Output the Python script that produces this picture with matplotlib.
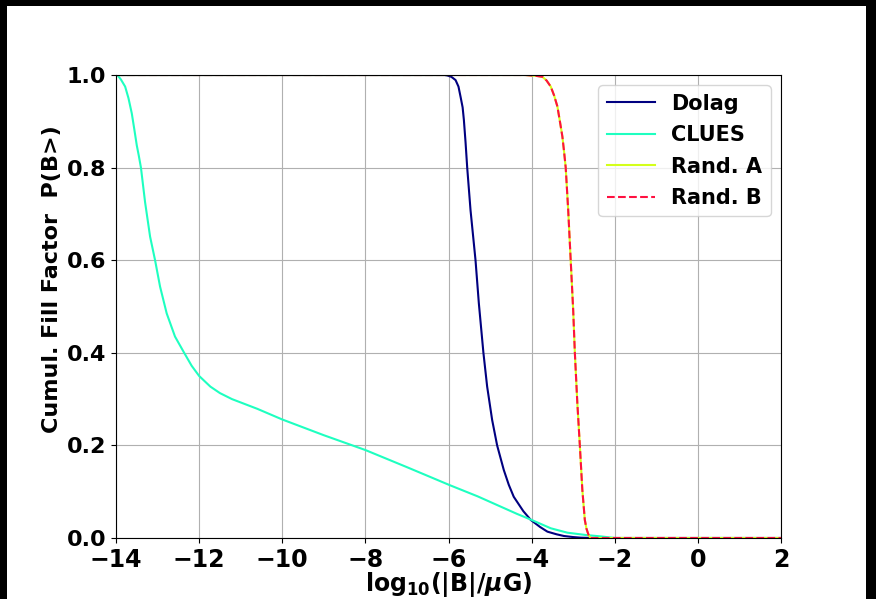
'''
Cumulative filling factor of the magnetic field for the different models
'''
from matplotlib import pyplot as plt
from matplotlib.patches import Rectangle

# log10(|B|/muG) and P(B>)
dolag_x = [-14.0, -6.1, -6.03, -5.93, -5.83, -5.76, -5.71, -5.66, -5.63, -5.59, -5.55,
           -5.47, -5.35, -5.27, -5.16, -5.07, -4.95, -4.83, -4.67, -4.55, -4.43, -4.2,
           -4.02, -3.8, -3.62, -3.4, -3.22, -3.0, -2.82, -2.5, 2.0]
dolag_y = [1.0, 1.0, 0.999, 0.996, 0.989, 0.975, 0.953, 0.93, 0.903, 0.855, 0.80,
           0.708, 0.60, 0.507, 0.40, 0.327, 0.255, 0.20, 0.147, 0.115, 0.089, 0.058,
           0.039, 0.024, 0.0137, 0.008, 0.0043, 0.002, 0.0007, 0.0, 0.0]

clues_x = [-14.0, -13.95, -13.88, -13.78, -13.7, -13.62, -13.56, -13.50, -13.45, -13.40,
           -13.30, -13.18, -13.06, -12.94, -12.78, -12.58, -12.36, -12.18, -12.0, -11.73,
           -11.5, -11.21, -10.6, -10.0, -9.0, -8.0, -7.0, -5.98, -5.3, -4.75, -4.35, -4.0,
           -3.54, -3.14, -2.7, -2.34, -2.0, 2.0]
clues_y = [1.0, 0.998, 0.99, 0.975, 0.95, 0.917, 0.883, 0.848, 0.825, 0.80,
           0.725, 0.651, 0.60, 0.543, 0.485, 0.435, 0.40, 0.372, 0.35, 0.327,
           0.313, 0.300, 0.279, 0.256, 0.222, 0.19, 0.153, 0.1145, 0.09, 0.068, 0.052, 0.039,
           0.021, 0.0115, 0.0065, 0.0035, 0.0, 0.0]

rand_x = [-14.0, -4.15, -4.02, -3.88, -3.74, -3.64, -3.54, -3.46, -3.38, -3.32, -3.26,
          -3.22, -3.18, -3.12, -3.06, -3.00, -2.96, -2.90, -2.84, -2.78, -2.72, -2.68,
          -2.63, -2.60, -2.58, 2.0]
rand_y = [1.0, 1.0, 0.999, 0.998, 0.996, 0.988, 0.975, 0.956, 0.932, 0.90, 0.867,
          0.835, 0.80, 0.708, 0.60, 0.492, 0.40, 0.291, 0.20, 0.104, 0.039, 0.02,
          0.0065, 0.002, 0.0, 0.0]

labels = ['Dolag', 'CLUES', 'Rand. A', 'Rand. B']
colors = ['#000080', '#1effc0', '#d4ff1a', '#ff1040']

fig = plt.figure(figsize=(8.76, 5.99), dpi=100)
fig.patch.set_facecolor('black')
# white slide area the plot sits on
fig.patches.append(Rectangle((7 / 876, 0), 859 / 876, 593 / 599,
                             transform=fig.transFigure, facecolor='white',
                             edgecolor='none', zorder=-10))

ax = fig.add_axes([116 / 876, 61 / 599, 665 / 876, 463 / 599])
ax.plot(dolag_x, dolag_y, color=colors[0], lw=1.5, label=labels[0])
ax.plot(clues_x, clues_y, color=colors[1], lw=1.5, label=labels[1])
ax.plot(rand_x, rand_y, color=colors[2], lw=1.5, label=labels[2])
ax.plot(rand_x, rand_y, color=colors[3], lw=1.5, ls='--', label=labels[3])

ax.set_xlim(-14, 2)
ax.set_ylim(0, 1)
ax.set_xticks(range(-14, 3, 2))
ax.set_yticks([0.0, 0.2, 0.4, 0.6, 0.8, 1.0])
ax.grid(True)

for lab in ax.get_xticklabels() + ax.get_yticklabels():
    lab.set_fontweight('bold')
ax.tick_params(axis='x', labelsize=17)
ax.tick_params(axis='y', labelsize=16)

ax.set_xlabel(r'$\mathbf{log_{10}(|B|/}\boldsymbol{\mu}\mathbf{G)}$', fontsize=17, labelpad=-1)
ax.set_ylabel('Cumul. Fill Factor  P(B>)', fontsize=16, fontweight='bold')
ax.yaxis.set_label_coords(-0.081, 0.559)

ax.legend(loc='upper right', prop={'weight': 'bold', 'size': 15}, handlelength=2.3,
          labelspacing=0.55)

fig.savefig('out.png', dpi=100, facecolor=fig.get_facecolor())
